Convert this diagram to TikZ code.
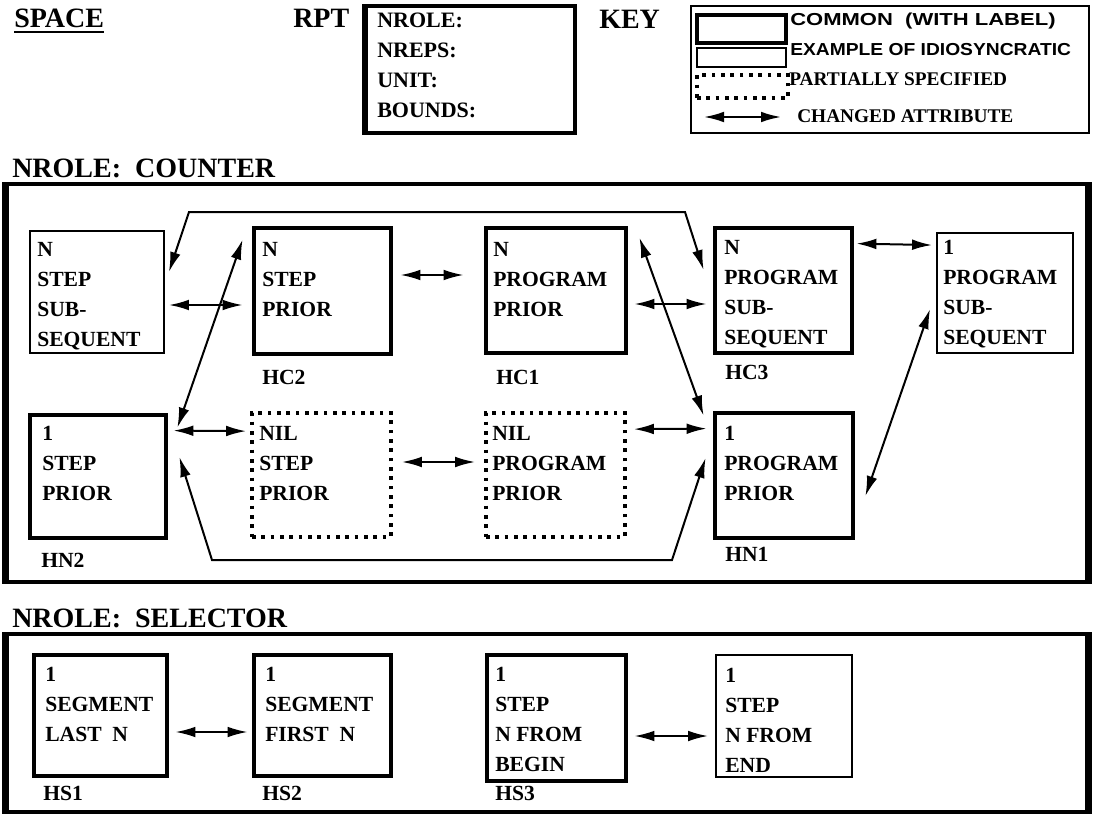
\documentclass[tikz,border=0pt]{standalone}
\usepackage{graphicx}
\usepackage{fontspec}
\setmainfont{Liberation Serif}
\newfontfamily\keysansfam{Liberation Sans}
\usetikzlibrary{arrows.meta,fit}
\newcommand\bxfont{\fontsize{16.2pt}{22.5pt}\selectfont\bfseries}
\newcommand\hdfont{\fontsize{21pt}{26pt}\selectfont\bfseries}
\newcommand\rptfont{\fontsize{16.5pt}{22.5pt}\selectfont\bfseries}
\newcommand\kserif{\fontsize{14.5pt}{18pt}\selectfont\bfseries}
\newcommand\ksans{\fontsize{13pt}{16pt}\selectfont\bfseries\keysansfam}
\begin{document}
\begin{tikzpicture}[x=0.75pt,y=-0.75pt,
  cbox/.style={draw, line width=3.6pt, inner sep=0pt},
  ibox/.style={draw, line width=1.4pt, inner sep=0pt},
  pbox/.style={draw, line width=2.8pt, dash pattern=on 2.8pt off 4.2pt, inner sep=0pt},
  panel/.style={draw, line width=2.4pt, inner sep=0pt},
  pside/.style={line width=4.5pt},
  txt/.style={anchor=north west, inner sep=0pt, align=left, font=\bxfont},
  lbl/.style={anchor=north west, inner sep=0pt, font=\bxfont},
  hd/.style={anchor=north west, inner sep=0pt, font=\hdfont},
  dbl/.style={line width=1.5pt, arrows={Latex[length=15pt,width=8pt]-Latex[length=15pt,width=8pt]}}]
\fill[white] (0,0) rectangle (1093,817);
\useasboundingbox (0,0) rectangle (1093,817);

% ---------- top row ----------
\node[hd] (space) at (14,9) {SPACE};
\draw[line width=1.3pt] ([yshift=-3pt]space.south west) -- ([yshift=-3pt]space.south east);
\node[hd] (rpt) at (293,9) {RPT};
\node[panel, line width=2.4pt, fit={(366,6) (575,133)}] (rptbox) {};
\draw[pside, line width=3.6pt] (rptbox.north west) -- (rptbox.south west);
\node[txt, font=\rptfont] (rpttxt) at (377,13) {NROLE:\\NREPS:\\UNIT:\\BOUNDS:};

\node[hd] (key) at (599,10) {KEY};
\node[draw, line width=2.2pt, inner sep=0pt, fit={(691,6) (1089,133)}] (keybox) {};
\node[cbox, line width=3pt, fit={(697,15) (786,43)}] (kc) {};
\node[ibox, fit={(697,48) (786,67)}] (ki) {};
\node[pbox, fit={(697,75) (788,98)}] (kp) {};
\coordinate (ka1) at (704,117);
\coordinate (ka2) at (781,117);
\draw[dbl] (ka1) -- (ka2);
\node[anchor=north west, inner sep=0pt, font=\ksans] (kt1) at (790,13) {\scalebox{1.27}[1]{COMMON\ \ (WITH LABEL)}};
\node[anchor=north west, inner sep=0pt, font=\ksans] (kt2) at (790,43) {\scalebox{1.11}[1]{EXAMPLE OF IDIOSYNCRATIC}};
\node[anchor=north west, inner sep=0pt, font=\kserif] (kt3) at (789,72) {PARTIALLY SPECIFIED};
\node[anchor=north west, inner sep=0pt, font=\kserif] (kt4) at (797,109) {CHANGED ATTRIBUTE};

% ---------- counter panel ----------
\node[hd] (hcount) at (12,159) {NROLE:\ \ COUNTER};
\node[panel, fit={(7,184) (1087,582)}] (cpanel) {};
\draw[pside] (cpanel.north west) -- (cpanel.south west);
\draw[pside] (cpanel.north east) -- (cpanel.south east);

\node[ibox, fit={(30,231) (164,353)}] (nss) {};
\node[cbox, fit={(254,228) (391,354)}] (hc2) {};
\node[cbox, fit={(486,228) (626,353)}] (hc1) {};
\node[cbox, fit={(715,228) (852,353)}] (hc3) {};
\node[ibox, fit={(937,233) (1073,353)}] (pss) {};
\node[cbox, fit={(30,415) (166,538)}] (hn2) {};
\node[pbox, fit={(252,413) (391,537)}] (nils) {};
\node[pbox, fit={(486,413) (625,537)}] (nilp) {};
\node[cbox, fit={(715,413) (853,538)}] (hn1) {};

\node[txt] (tnss) at (37,242) {N\\STEP\\SUB-\\SEQUENT};
\node[txt] (thc2) at (262,242) {N\\STEP\\PRIOR};
\node[txt] (thc1) at (493,242) {N\\PROGRAM\\PRIOR};
\node[txt] (thc3) at (724,240) {N\\PROGRAM\\SUB-\\SEQUENT};
\node[txt] (tpss) at (943,240) {1\\PROGRAM\\SUB-\\SEQUENT};
\node[txt] (thn2) at (42,426) {1\\STEP\\PRIOR};
\node[txt] (tnils) at (259,426) {NIL\\STEP\\PRIOR};
\node[txt] (tnilp) at (492,426) {NIL\\PROGRAM\\PRIOR};
\node[txt] (thn1) at (724,426) {1\\PROGRAM\\PRIOR};

\node[lbl] (lhc2) at (262,370) {HC2};
\node[lbl] (lhc1) at (496,370) {HC1};
\node[lbl] (lhc3) at (725,365) {HC3};
\node[lbl] (lhn2) at (41,553) {HN2};
\node[lbl] (lhn1) at (725,547) {HN1};

% connectors
\draw[dbl] ([shift={(4,-20)}]nss.east) -- (189,212) -- (685,212) -- ([shift={(-9,-20.5)}]hc3.west);
\draw[dbl] ([shift={(4,13)}]nss.east) -- ([shift={(-9,14)}]hc2.west);
\draw[dbl] ([shift={(-9,14)}]hc2.north west) -- ([shift={(9,15)}]hn2.north east);
\draw[dbl] ([shift={(7,-16)}]hc2.east) -- ([shift={(-20,-15.5)}]hc1.west);
\draw[dbl] ([shift={(6,13.5)}]hc1.east) -- ([shift={(-6,13.5)}]hc3.west);
\draw[dbl] ([shift={(11,12)}]hc1.north east) -- ([shift={(-9,5)}]hn1.north west);
\draw[dbl] ([shift={(2,18)}]hc3.north east) -- ([shift={(-4,13)}]pss.north west);
\draw[dbl] ([shift={(-6,16)}]pss.west) -- ([shift={(10,20.5)}]hn1.east);
\draw[dbl] ([shift={(5,18)}]hn2.north east) -- ([shift={(-4,20)}]nils.north west);
\draw[dbl] ([shift={(9,-13)}]nils.east) -- ([shift={(-9,-13)}]nilp.west);
\draw[dbl] ([shift={(7,18)}]nilp.north east) -- ([shift={(-6,18)}]hn1.north west);
\draw[dbl] ([shift={(11,-19.5)}]hn2.east) -- (212,560) -- (672,560) -- ([shift={(-7,-17.5)}]hn1.west);

% ---------- selector panel ----------
\node[hd] (hsel) at (12,609) {NROLE:\ \ SELECTOR};
\node[panel, fit={(7,634) (1087,812)}] (spanel) {};
\draw[pside] (spanel.north west) -- (spanel.south west);
\draw[pside] (spanel.north east) -- (spanel.south east);

\node[cbox, fit={(34,655) (167,776)}] (hs1) {};
\node[cbox, fit={(254,655) (391,776)}] (hs2) {};
\node[cbox, fit={(487,655) (626,781)}] (hs3) {};
\node[ibox, fit={(716,655) (852,777)}] (hs4) {};

\node[txt] (ths1) at (45,667) {1\\SEGMENT\\LAST\ \ N};
\node[txt] (ths2) at (265,667) {1\\SEGMENT\\FIRST\ \ N};
\node[txt] (ths3) at (495,667) {1\\STEP\\N FROM\\BEGIN};
\node[txt] (ths4) at (725,668) {1\\STEP\\N FROM\\END};

\node[lbl] (lhs1) at (43,786) {HS1};
\node[lbl] (lhs2) at (262,786) {HS2};
\node[lbl] (lhs3) at (495,786) {HS3};

\draw[dbl] ([shift={(6,16.5)}]hs1.east) -- ([shift={(-4,16.5)}]hs2.west);
\draw[dbl] ([shift={(6,18)}]hs3.east) -- ([shift={(-7,20)}]hs4.west);
\end{tikzpicture}
\end{document}
